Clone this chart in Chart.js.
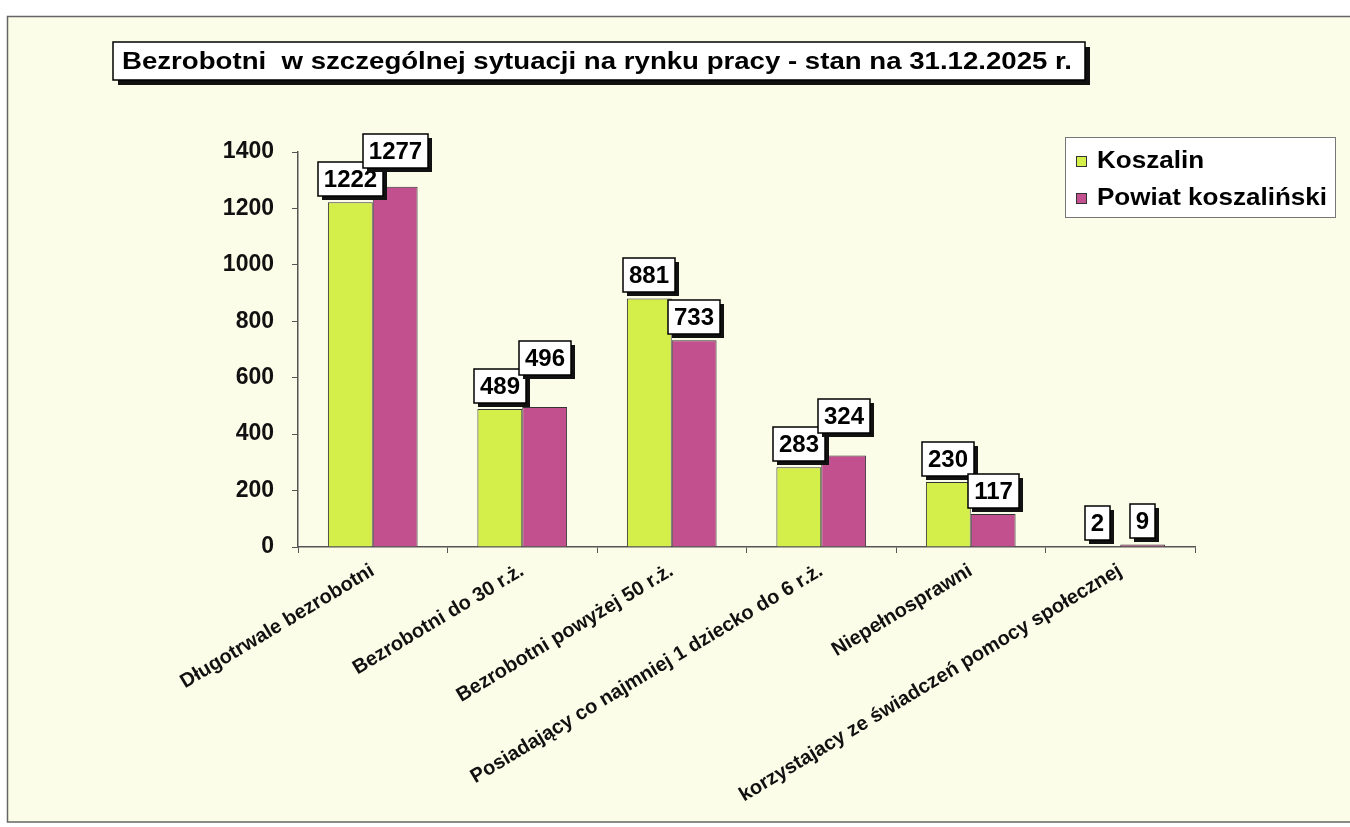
<!DOCTYPE html>
<html>
<head>
<meta charset="utf-8">
<script src="https://cdn.jsdelivr.net/npm/chart.js@4.4.1/dist/chart.umd.min.js"></script>
<style>
  html, body { margin: 0; padding: 0; background: #ffffff; }
  #wrap { width: 1350px; height: 827px; }
</style>
</head>
<body>
<div id="wrap"><canvas id="c" width="1350" height="827"></canvas></div>
<script>
// ---- data ----
const chartTitle = 'Bezrobotni  w szczególnej sytuacji na rynku pracy - stan na 31.12.2025 r.';
const categories = [
  'Długotrwale bezrobotni',
  'Bezrobotni do 30 r.ż.',
  'Bezrobotni powyżej 50 r.ż.',
  'Posiadający co najmniej 1 dziecko do 6 r.ż.',
  'Niepełnosprawni',
  'korzystajacy ze świadczeń pomocy społecznej'
];
const seriesNames = ['Koszalin', 'Powiat koszaliński'];
const koszalin = [1222, 489, 881, 283, 230, 2];
const powiat = [1277, 496, 733, 324, 117, 9];
const yTickValues = [0, 200, 400, 600, 800, 1000, 1200, 1400];

// ---- styles ----
const FONT = '"Liberation Sans", Arial, sans-serif';
const GREEN = '#d4ee4a';
const MAGENTA = '#c2508f';
const BG = '#fcfde8';

const background = {
  id: 'background',
  beforeDraw(chart) {
    const ctx = chart.ctx;
    ctx.save();
    ctx.fillStyle = '#ffffff';
    ctx.fillRect(0, 0, chart.width, chart.height);
    ctx.fillStyle = BG;
    ctx.fillRect(7, 16, chart.width - 7, 806);
    ctx.strokeStyle = '#666';
    ctx.lineWidth = 1.5;
    ctx.beginPath();
    ctx.moveTo(chart.width, 16.5);
    ctx.lineTo(7.5, 16.5);
    ctx.lineTo(7.5, 822);
    ctx.lineTo(chart.width, 822);
    ctx.stroke();
    ctx.restore();
  }
};

function shadowBox(ctx, x, y, w, h, off) {
  ctx.fillStyle = '#111';
  ctx.fillRect(x + off, y + off, w, h);
  ctx.fillStyle = '#ffffff';
  ctx.fillRect(x, y, w, h);
  ctx.strokeStyle = '#000';
  ctx.lineWidth = 1.5;
  ctx.strokeRect(x, y, w, h);
}

const valueLabels = {
  id: 'valueLabels',
  afterDatasetsDraw(chart) {
    const ctx = chart.ctx;
    ctx.save();
    ctx.font = 'bold 24px ' + FONT;
    ctx.textAlign = 'center';
    ctx.textBaseline = 'middle';
    const n = chart.data.labels.length;
    for (let i = 0; i < n; i++) {
      let prev = null;
      chart.data.datasets.forEach((ds, di) => {
        const el = chart.getDatasetMeta(di).data[i];
        const txt = String(ds.data[i]);
        const w = Math.round(ctx.measureText(txt).width + 12);
        const h = 34;
        const r = { x: Math.round(el.x - w / 2), y: Math.round(el.y - 6 - h), w, h };
        if (prev) {
          const hov = Math.min(prev.x + prev.w, r.x + r.w) - Math.max(prev.x, r.x);
          const vov = Math.min(prev.y + prev.h, r.y + r.h) - Math.max(prev.y, r.y);
          if (hov > 0 && vov > 8) r.y = prev.y - h + 6;
        }
        shadowBox(ctx, r.x, r.y, r.w, r.h, 4);
        ctx.fillStyle = '#000';
        ctx.fillText(txt, r.x + r.w / 2, r.y + r.h / 2 + 1);
        prev = r;
      });
    }
    ctx.restore();
  }
};

const titleAndLegend = {
  id: 'titleAndLegend',
  afterDraw(chart) {
    const ctx = chart.ctx;
    ctx.save();
    // title box
    shadowBox(ctx, 113, 42, 972, 38, 5);
    ctx.fillStyle = '#000';
    ctx.font = 'bold 24px ' + FONT;
    ctx.textAlign = 'left';
    ctx.textBaseline = 'middle';
    const tw = ctx.measureText(chartTitle).width;
    ctx.save();
    ctx.translate(122, 62);
    ctx.scale(950 / tw, 1);
    ctx.fillText(chartTitle, 0, 0);
    ctx.restore();

    // legend box
    ctx.fillStyle = '#ffffff';
    ctx.fillRect(1065, 137, 270, 80);
    ctx.strokeStyle = '#777';
    ctx.lineWidth = 1;
    ctx.strokeRect(1065.5, 137.5, 270, 80);
    ctx.font = 'bold 23px ' + FONT;
    ctx.textBaseline = 'middle';
    const longest = Math.max(...chart.data.datasets.map(d => ctx.measureText(d.label).width));
    const sx = 230 / longest;
    chart.data.datasets.forEach((ds, di) => {
      const cy = 161 + di * 37;
      ctx.fillStyle = ds.backgroundColor;
      ctx.fillRect(1076, cy - 5, 11, 11);
      ctx.strokeStyle = '#333';
      ctx.strokeRect(1076.5, cy - 4.5, 10, 10);
      ctx.fillStyle = '#000';
      ctx.save();
      ctx.translate(1097, cy + 1);
      ctx.scale(sx, 1);
      ctx.fillText(ds.label, 0, 0);
      ctx.restore();
    });
    ctx.restore();
  }
};

new Chart(document.getElementById('c'), {
  type: 'bar',
  data: {
    labels: categories,
    datasets: [
      { label: seriesNames[0], data: koszalin, backgroundColor: GREEN, borderColor: '#333', borderWidth: 1 },
      { label: seriesNames[1], data: powiat, backgroundColor: MAGENTA, borderColor: '#333', borderWidth: 1 }
    ]
  },
  options: {
    responsive: false,
    animation: false,
    devicePixelRatio: 1,
    layout: { padding: { top: 152, right: 155, bottom: 0, left: 0 } },
    datasets: { bar: { categoryPercentage: 0.6, barPercentage: 1.0 } },
    plugins: {
      legend: { display: false },
      title: { display: false },
      tooltip: { enabled: false }
    },
    scales: {
      x: {
        grid: { display: true, drawOnChartArea: false, drawTicks: true, tickLength: 6, color: '#555', offset: true },
        border: { display: true, color: '#555', width: 1.5 },
        ticks: {
          autoSkip: false,
          maxRotation: 31,
          minRotation: 31,
          padding: 6,
          color: '#111',
          font: { family: FONT, size: 20, weight: 'bold' }
        },
        afterFit(s) { s.height = 280; }
      },
      y: {
        min: 0,
        max: 1400,
        afterBuildTicks(s) { s.ticks = yTickValues.map(v => ({ value: v })); },
        grid: { display: true, drawOnChartArea: false, drawTicks: true, tickLength: 6, color: '#555' },
        border: { display: true, color: '#555', width: 1.5 },
        ticks: {
          padding: 18,
          color: '#111',
          callback: v => String(v),
          font: { family: FONT, size: 23, weight: 'bold' }
        },
        afterFit(s) { s.width = 298; }
      }
    }
  },
  plugins: [background, valueLabels, titleAndLegend]
});
</script>
</body>
</html>
